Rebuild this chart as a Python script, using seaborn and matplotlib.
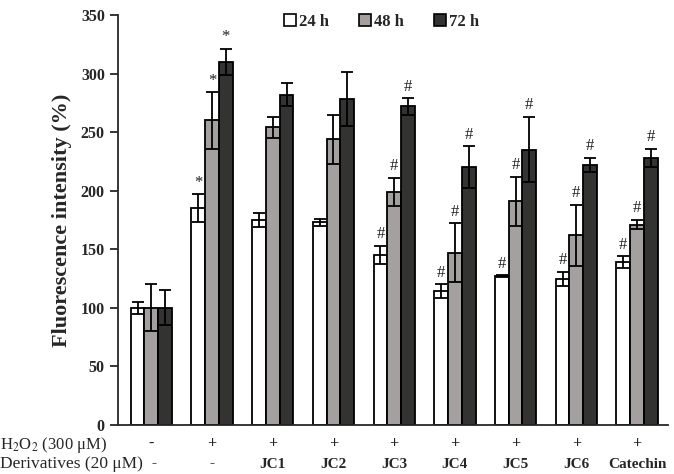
import matplotlib
matplotlib.use("Agg")
import matplotlib.pyplot as plt
import matplotlib.transforms as mtransforms
from matplotlib.patches import Patch
import seaborn as sns
import pandas as pd
import numpy as np

groups = ["Control", "H2O2", "JC1", "JC2", "JC3", "JC4", "JC5", "JC6", "Catechin"]
times = ["24 h", "48 h", "72 h"]
v24 = [100, 185, 175, 173, 145, 114, 127, 125, 139]
v48 = [100, 260, 254, 244, 199, 147, 191, 162, 171]
v72 = [100, 310, 282, 278, 272, 220, 235, 222, 228]
sd24 = [5, 12, 6, 3, 8, 6, 1, 6, 5]
sd48 = [20, 24, 9, 21, 12, 25, 21, 26, 4]
sd72 = [15, 11, 10, 23, 7, 18, 28, 6, 8]
marks = ["", "*", "", "", "#", "#", "#", "#", "#"]
h2o2_row = ["-", "+", "+", "+", "+", "+", "+", "+", "+"]
deriv_row = ["-", "-", "JC1", "JC2", "JC3", "JC4", "JC5", "JC6", "Catechin"]
yticks = [0, 50, 100, 150, 200, 250, 300, 350]

sns.set_style("ticks")
plt.rcParams["font.family"] = ["Liberation Serif", "DejaVu Serif"]
plt.rcParams["mathtext.fontset"] = "stix"

df = pd.DataFrame({
    "group": groups * 3,
    "time": [times[0]] * 9 + [times[1]] * 9 + [times[2]] * 9,
    "value": v24 + v48 + v72,
})
sds = [sd24, sd48, sd72]
colors = ["#ffffff", "#a5a09e", "#333331"]

fig = plt.figure(figsize=(6.74, 4.74), dpi=100)
ax = fig.add_axes([0.175, 0.1034, 0.816, 0.865])
sns.barplot(data=df, x="group", y="value", hue="time", order=groups,
            hue_order=times, palette=colors, edgecolor="black",
            linewidth=1.3, errorbar=None, width=0.68, ax=ax, legend=False)

for cont, sd in zip(ax.containers, sds):
    for i, (p, s) in enumerate(zip(cont.patches, sd)):
        xc = p.get_x() + p.get_width() / 2
        h = p.get_height()
        ax.errorbar(xc, h, yerr=s, fmt="none", ecolor="black", elinewidth=1.3,
                    capsize=4, capthick=1.3, zorder=5)
        if marks[i]:
            ax.text(xc, h + s + 3, marks[i], ha="center", va="bottom",
                    fontsize=12, color="#222222", zorder=6)

ax.set_xlim(-0.55, 8.51)
ax.set_ylim(0, 350)
ax.set_yticks(yticks)
ax.set_yticklabels([str(t) for t in yticks], fontsize=11.5, fontweight="bold")
ax.set_xticks(range(len(groups)))
ax.set_xticklabels([])
ax.tick_params(axis="x", length=0)
ax.tick_params(axis="y", length=6, width=1.3, direction="out")
ax.set_xlabel("")
ax.set_ylabel("Fluorescence intensity (%)", fontsize=16, fontweight="bold", labelpad=6)
for s in ["left", "bottom"]:
    ax.spines[s].set_linewidth(1.3)
sns.despine(ax=ax)

trans = mtransforms.blended_transform_factory(ax.transData, fig.transFigure)
for i, (a, b) in enumerate(zip(h2o2_row, deriv_row)):
    ax.text(i, 1 - 444 / 474, a, transform=trans, ha="center", va="center",
            fontsize=11.5, fontweight="bold")
    ax.text(i + (0.05 if i == 0 else 0), 1 - 464 / 474, b, transform=trans,
            ha="center", va="center", fontsize=11, fontweight="bold")
fig.text(0.0, 1 - 445 / 474, "H$_2$O$_2$ (300 μM)", ha="left", va="center", fontsize=12)
fig.text(0.0, 1 - 464 / 474, "Derivatives (20 μM)", ha="left", va="center", fontsize=12.5)

handles = [Patch(facecolor=c, edgecolor="black", linewidth=1.2) for c in colors]
ax.legend(handles, times, loc="upper center", bbox_to_anchor=(0.48, 1.04),
          ncol=3, frameon=False, handlelength=0.7, handleheight=0.7,
          handletextpad=0.2, columnspacing=1.8,
          prop={"weight": "bold", "size": 12, "family": "Liberation Serif"})

fig.savefig("out.png", dpi=100)
